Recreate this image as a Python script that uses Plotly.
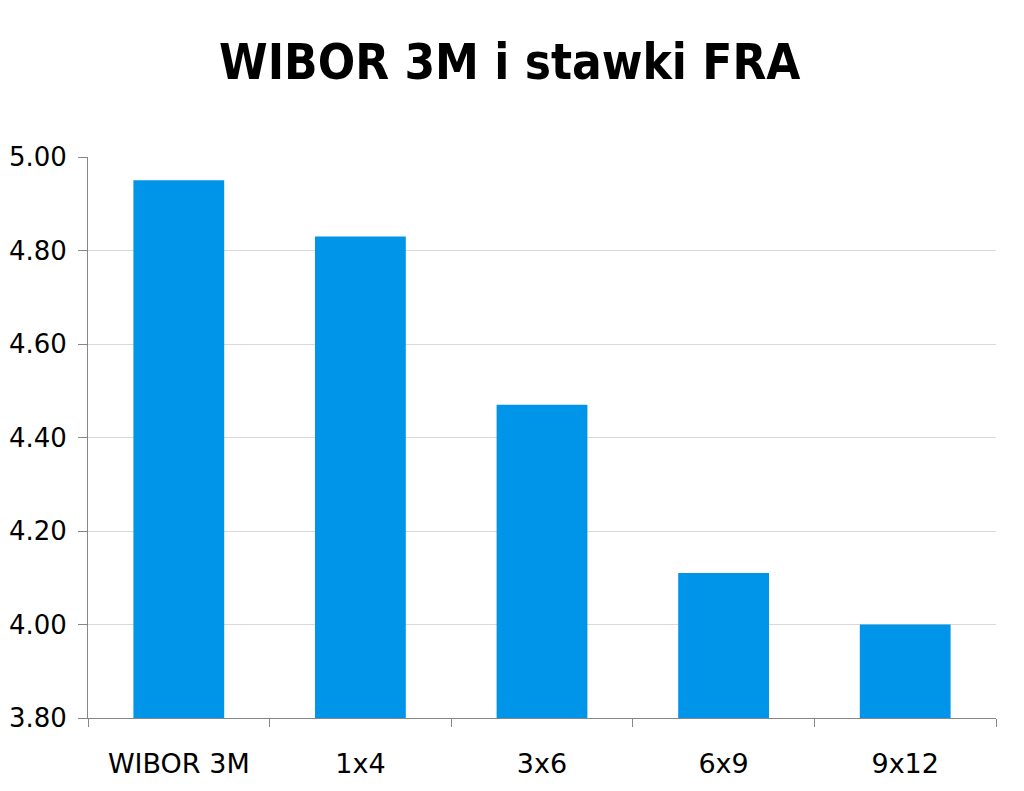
import plotly.graph_objects as go

# WIBOR 3M and FRA rates
categories = ["WIBOR 3M", "1x4", "3x6", "6x9", "9x12"]
rates = [4.95, 4.83, 4.47, 4.11, 4.00]
y_ticks = [3.80, 4.00, 4.20, 4.40, 4.60, 4.80, 5.00]

fig = go.Figure()

fig.add_trace(go.Bar(
    x=categories,
    y=rates,
    marker={'color': '#0095E8', 'line': {'width': 0}},
    hoverinfo='x+y'
))

# page body adds an 8px offset, margins are set to compensate
fig.update_layout(
    title={
        'text': "<b>WIBOR 3M i stawki FRA</b>",
        'x': 0.49, 'xanchor': 'center',
        'y': 0.932, 'yanchor': 'middle',
        'font': {'family': "DejaVu Sans Condensed, DejaVu Sans", 'size': 49, 'color': 'black'}
    },
    width=1024, height=791,
    margin={'l': 80, 'r': 36, 't': 149, 'b': 81},
    paper_bgcolor='white',
    plot_bgcolor='white',
    bargap=0.5,
    showlegend=False,
    font={'family': "DejaVu Sans", 'color': 'black'}
)

fig.update_yaxes(
    range=[3.80, 5.00],
    tickvals=y_ticks,
    ticktext=[f"{v:.2f}" for v in y_ticks],
    tickfont={'size': 26},
    ticklabelstandoff=6,
    automargin=False,
    showgrid=True, gridcolor='#d9d9d9', gridwidth=1,
    showline=True, linecolor='#868686', linewidth=1,
    ticks='outside', ticklen=9, tickcolor='#868686',
    zeroline=False
)

fig.update_xaxes(
    tickfont={'size': 27},
    ticklabelstandoff=22,
    automargin=False,
    showline=True, linecolor='#868686', linewidth=1,
    ticks='outside', tickson='boundaries', ticklen=8, tickcolor='#868686',
    showgrid=False
)

fig.write_html("out.html")
